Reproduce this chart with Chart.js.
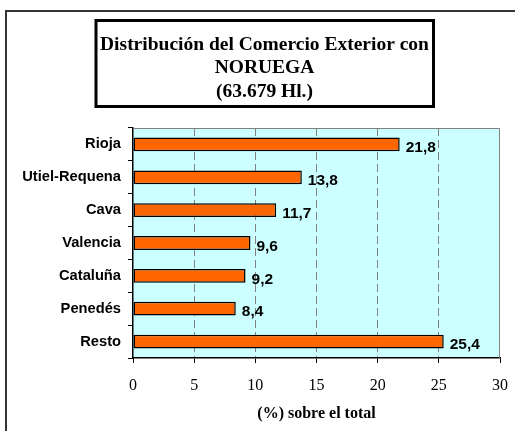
<!DOCTYPE html>
<html>
<head>
<meta charset="utf-8">
<script src="https://cdn.jsdelivr.net/npm/chart.js@4/dist/chart.umd.min.js"></script>
<style>
  html, body { margin: 0; padding: 0; background: #ffffff; }
  #wrap { width: 515px; height: 431px; }
</style>
</head>
<body>
<div id="wrap"><canvas id="c" width="515" height="431"></canvas></div>
<script>
// Denominaciones de origen y su cuota (%) del comercio exterior con Noruega
const categories = ['Rioja', 'Utiel-Requena', 'Cava', 'Valencia', 'Cataluña', 'Penedés', 'Resto'];
const shares = [21.8, 13.8, 11.7, 9.6, 9.2, 8.4, 25.4];
const xTicks = [0, 5, 10, 15, 20, 25, 30];
const titleLines = ['Distribución del Comercio Exterior con', 'NORUEGA', '(63.679 Hl.)'];
const xAxisTitle = '(%) sobre el total';

const SANS = '"Liberation Sans", Arial, sans-serif';
const SERIF = '"Liberation Serif", "Times New Roman", serif';

// Marco exterior, recuadro del título, fondo del área de trazado y etiquetas de valor
const decor = {
  id: 'decor',
  beforeDraw(chart) {
    const ctx = chart.ctx;
    const a = chart.chartArea;
    ctx.save();
    // marco de la hoja
    ctx.strokeStyle = '#333333';
    ctx.lineWidth = 2;
    ctx.beginPath();
    ctx.moveTo(6, 431);
    ctx.lineTo(6, 11);
    ctx.lineTo(515, 11);
    ctx.stroke();
    // fondo del área de trazado
    ctx.fillStyle = '#CCFFFF';
    ctx.fillRect(a.left, a.top, a.right - a.left, a.bottom - a.top);
    // recuadro del título
    ctx.strokeStyle = '#000000';
    ctx.lineWidth = 3;
    ctx.strokeRect(96, 20.5, 337.5, 86);
    ctx.fillStyle = '#000000';
    ctx.font = 'bold 19.5px ' + SERIF;
    ctx.textAlign = 'center';
    ctx.textBaseline = 'alphabetic';
    titleLines.forEach((t, i) => ctx.fillText(t, 264.5, 49.5 + i * 23.5));
    ctx.restore();
  },
  beforeDatasetsDraw(chart) {
    const ctx = chart.ctx;
    const a = chart.chartArea;
    ctx.save();
    ctx.strokeStyle = '#808080';
    ctx.lineWidth = 1;
    ctx.beginPath();
    ctx.moveTo(a.left, a.top + 0.5);
    ctx.lineTo(a.right - 0.5, a.top + 0.5);
    ctx.lineTo(a.right - 0.5, a.bottom);
    ctx.stroke();
    ctx.restore();
  },
  afterDatasetsDraw(chart) {
    const ctx = chart.ctx;
    const meta = chart.getDatasetMeta(0);
    ctx.save();
    ctx.fillStyle = '#000000';
    ctx.font = 'bold 15.5px ' + SANS;
    ctx.textAlign = 'left';
    ctx.textBaseline = 'middle';
    meta.data.forEach((bar, i) => {
      ctx.fillText(shares[i].toFixed(1).replace('.', ','), bar.x + 6, bar.y + 3.5);
    });
    ctx.restore();
  }
};

new Chart(document.getElementById('c'), {
  type: 'bar',
  data: {
    labels: categories,
    datasets: [{
      data: shares,
      backgroundColor: '#FF6600',
      borderColor: '#000000',
      borderWidth: 1.5,
      borderSkipped: false,
      categoryPercentage: 1,
      barPercentage: 0.42
    }]
  },
  options: {
    indexAxis: 'y',
    responsive: false,
    animation: false,
    events: [],
    layout: { padding: { top: 128, right: 15, left: 0, bottom: 0 } },
    plugins: { legend: { display: false }, tooltip: { enabled: false } },
    scales: {
      x: {
        type: 'linear',
        min: 0,
        max: 30,
        afterFit(scale) {
          scale.height = 73;
          scale.paddingLeft = 0;
          scale.paddingRight = 0;
        },
        afterBuildTicks(scale) { scale.ticks = xTicks.map(v => ({ value: v })); },
        border: { display: true, color: '#000000', width: 1.5, dash: [8, 4] },
        grid: {
          color: c => (c.tick && (c.tick.value === 0 || c.tick.value === 30)) ? 'rgba(0,0,0,0)' : '#808080',
          lineWidth: 1,
          tickColor: '#000000',
          tickLength: 5
        },
        ticks: {
          color: '#000000',
          font: { family: SERIF, size: 16 },
          padding: 13,
          maxRotation: 0
        },
        title: {
          display: true,
          text: xAxisTitle,
          color: '#000000',
          font: { family: SERIF, size: 16, weight: 'bold' },
          padding: { top: 0, bottom: 8 }
        }
      },
      y: {
        type: 'category',
        afterFit(scale) { scale.width = 133; },
        border: { display: true, color: '#000000', width: 1.5 },
        grid: {
          offset: true,
          drawOnChartArea: false,
          tickColor: '#000000',
          tickLength: 5
        },
        ticks: {
          color: '#000000',
          font: { family: SANS, size: 14.7, weight: 'bold' },
          padding: 7
        }
      }
    }
  },
  plugins: [decor]
});
</script>
</body>
</html>
